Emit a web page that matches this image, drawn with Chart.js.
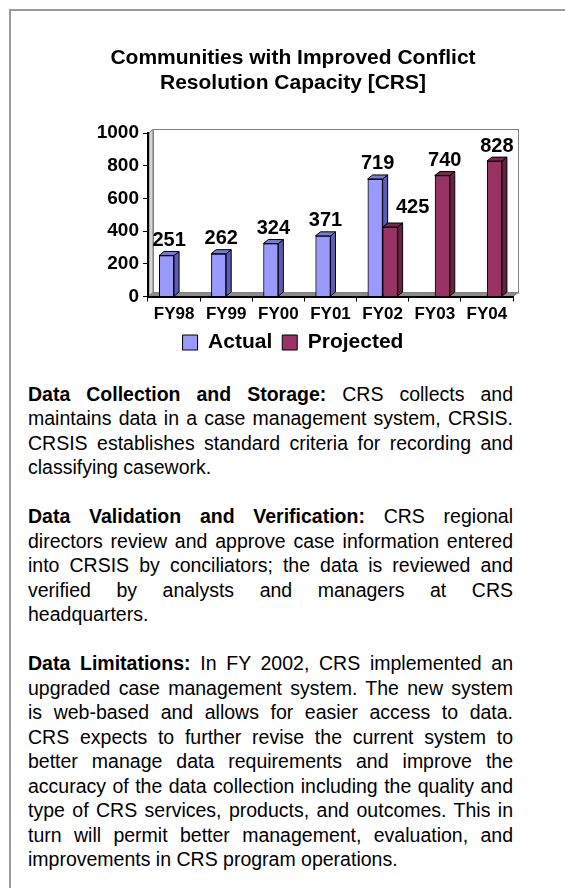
<!DOCTYPE html>
<html>
<head>
<meta charset="utf-8">
<title>Communities with Improved Conflict Resolution Capacity [CRS]</title>
<script src="https://cdn.jsdelivr.net/npm/chart.js@4.4.1/dist/chart.umd.min.js"></script>
<style>
  html, body { margin: 0; padding: 0; background: #fff; }
  body { width: 565px; height: 888px; position: relative; overflow: hidden; font-family: "Liberation Sans", Arial, sans-serif; color: #000; }
  #frame { position: absolute; left: 9px; top: 9px; right: -10px; bottom: -10px; border-top: 2px solid #9a9a9a; border-left: 2px solid #9a9a9a; }
  #chartBox { position: absolute; left: 0; top: 0; width: 565px; height: 363px; }
  #notes { position: absolute; left: 28px; top: 381.75px; width: 485px; font-size: 19.5px; line-height: 24.5px; }
  .ln { text-align: justify; text-align-last: justify; }
  .ln.end { text-align-last: left; }
  .gap { height: 24.5px; }
</style>
</head>
<body>
<div id="frame"></div>
<div id="chartBox"><canvas id="crsChart" width="565" height="363"></canvas></div>
<div id="notes">
  <div class="ln"><b>Data Collection and Storage:</b> CRS collects and</div>
  <div class="ln">maintains data in a case management system, CRSIS.</div>
  <div class="ln">CRSIS establishes standard criteria for recording and</div>
  <div class="ln end">classifying casework.</div>
  <div class="gap"></div>
  <div class="ln"><b>Data Validation and Verification:</b> CRS regional</div>
  <div class="ln">directors review and approve case information entered</div>
  <div class="ln">into CRSIS by conciliators; the data is reviewed and</div>
  <div class="ln">verified by analysts and managers at CRS</div>
  <div class="ln end">headquarters.</div>
  <div class="gap"></div>
  <div class="ln"><b>Data Limitations:</b> In FY 2002, CRS implemented an</div>
  <div class="ln">upgraded case management system. The new system</div>
  <div class="ln">is web-based and allows for easier access to data.</div>
  <div class="ln">CRS expects to further revise the current system to</div>
  <div class="ln">better manage data requirements and improve the</div>
  <div class="ln">accuracy of the data collection including the quality and</div>
  <div class="ln">type of CRS services, products, and outcomes. This in</div>
  <div class="ln">turn will permit better management, evaluation, and</div>
  <div class="ln end">improvements in CRS program operations.</div>
</div>
<script>
const categories = ["FY98", "FY99", "FY00", "FY01", "FY02", "FY03", "FY04"];
const actualValues = [251, 262, 324, 371, 719, null, null];
const projectedValues = [null, null, null, null, 425, 740, 828];
const yTicks = [0, 200, 400, 600, 800, 1000];

const FONT = '"Liberation Sans", Arial, sans-serif';
const DX = 5, DY = 4; // 3d depth

function poly(ctx, pts, fill) {
  ctx.beginPath();
  ctx.moveTo(pts[0][0], pts[0][1]);
  for (let i = 1; i < pts.length; i++) ctx.lineTo(pts[i][0], pts[i][1]);
  ctx.closePath();
  if (fill) {
    ctx.fillStyle = fill;
    ctx.fill();
  }
  ctx.stroke();
}

// back walls + floor, then bar sides and value labels
const bars3d = {
  id: "bars3d",
  beforeDraw(chart) {
    const { left, top, right, bottom } = chart.chartArea;
    const ctx = chart.ctx;
    ctx.save();
    ctx.lineWidth = 1;
    ctx.strokeStyle = "#808080";
    ctx.strokeRect(left + DX + 0.5, top - DY + 0.5, right - left, bottom - top);
    poly(ctx, [[left + 1, bottom], [left + 1, top], [left + DX, top - DY], [left + DX, bottom - DY]], "#d4d4d4");
    poly(ctx, [[left, bottom], [left + DX, bottom - DY], [right + DX, bottom - DY], [right, bottom]], "#8c8c8c");
    ctx.restore();
  },
  afterDatasetsDraw(chart, args, opts) {
    const ctx = chart.ctx;
    categories.forEach((c, i) => {
      chart.data.datasets.forEach((ds, d) => {
        if (ds.data[i] == null) return;
        const el = chart.getDatasetMeta(d).data[i];
        const { x, y, base, width } = el.getProps(["x", "y", "base", "width"], true);
        const l = x - width / 2, r = x + width / 2;
        el.draw(ctx);
        ctx.save();
        ctx.lineWidth = 1;
        ctx.strokeStyle = "#000";
        poly(ctx, [[r, y], [r + DX, y - DY], [r + DX, base - DY], [r, base]], opts.side[d]);
        poly(ctx, [[l, y], [l + DX, y - DY], [r + DX, y - DY], [r, y]], opts.top[d]);
        ctx.restore();
      });
    });
    ctx.save();
    ctx.fillStyle = "#000";
    ctx.font = "bold 20px " + FONT;
    ctx.textAlign = "center";
    ctx.textBaseline = "middle";
    chart.data.datasets.forEach((ds, d) => {
      chart.getDatasetMeta(d).data.forEach((el, i) => {
        if (ds.data[i] == null) return;
        const nudge = opts.nudge[d + "-" + i] || [0, 0];
        ctx.fillText(String(ds.data[i]), el.x + DX / 2 + nudge[0], el.y - 15 + nudge[1]);
      });
    });
    ctx.restore();
  }
};

new Chart(document.getElementById("crsChart"), {
  type: "bar",
  data: {
    labels: categories,
    datasets: [
      {
        label: "Actual",
        data: actualValues,
        backgroundColor: "#9999ff",
        borderColor: "#000",
        borderWidth: 1,
        categoryPercentage: 0.575,
        barPercentage: 1.0,
      },
      {
        label: "Projected",
        data: projectedValues,
        backgroundColor: "#993366",
        borderColor: "#000",
        borderWidth: 1,
        categoryPercentage: 0.575,
        barPercentage: 1.0,
      },
    ],
  },
  options: {
    responsive: false,
    animation: false,
    devicePixelRatio: 1,
    layout: { padding: { left: 73, right: 52, top: 0, bottom: 0 } },
    scales: {
      x: {
        grid: { drawOnChartArea: false, tickLength: 5, color: "#000" },
        border: { color: "#000", width: 2 },
        ticks: { color: "#000", padding: 3, font: { family: FONT, size: 17, weight: "bold" } },
        afterFit(scale) { scale.height = 25.5; },
      },
      y: {
        min: yTicks[0],
        max: yTicks[yTicks.length - 1],
        grid: { drawOnChartArea: false, tickLength: 5, color: "#000" },
        border: { color: "#000", width: 2 },
        ticks: {
          stepSize: yTicks[1] - yTicks[0],
          color: "#000",
          padding: 4,
          font: { family: FONT, size: 19, weight: "bold" },
          callback: (v) => String(v),
        },
        afterFit(scale) { scale.width = 75; },
      },
    },
    plugins: {
      title: {
        display: true,
        text: ["Communities with Improved Conflict", "Resolution Capacity [CRS]"],
        color: "#000",
        font: { family: FONT, size: 21, weight: "bold", lineHeight: 1.2 },
        padding: { top: 45.4, bottom: 37.2 },
      },
      legend: {
        position: "bottom",
        labels: {
          color: "#000",
          boxWidth: 15,
          boxHeight: 15,
          padding: 10,
          font: { family: FONT, size: 21, weight: "bold" },
        },
      },
      tooltip: { enabled: false },
      bars3d: {
        side: ["#5c5cb8", "#662244"],
        top: ["#7a7ad6", "#7a2850"],
        nudge: { "1-4": [20, -5] },
      },
    },
  },
  plugins: [bars3d],
});
</script>
</body>
</html>
